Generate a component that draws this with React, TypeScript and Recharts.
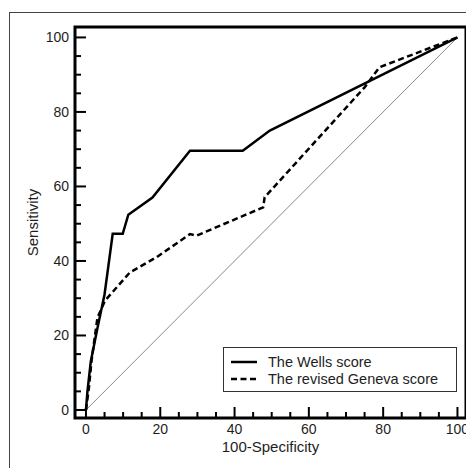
import React from "react";
import { LineChart, Line, XAxis, YAxis, ReferenceArea, Legend } from "recharts";

// ROC points (100-Specificity, Sensitivity)
const wellsX = [0, 0.4, 1.3, 3.1, 5, 7.2, 9.9, 11.4, 17.9, 28, 42.2, 49.5, 100];
const wellsY = [0, 5, 13, 22, 31, 47.3, 47.3, 52.4, 57, 69.6, 69.6, 75, 100];

const genevaX = [0, 0.8, 1.5, 3.1, 5.1, 11.8, 19, 28, 29.8, 47.7, 48.1, 75, 79, 100];
const genevaY = [0, 6, 13.2, 24.8, 29.3, 36.9, 41, 47.2, 46.8, 54.4, 57.1, 86.6, 92, 100];

const chanceX = [0, 100];
const chanceY = [0, 100];

const tickValues = [0, 5, 10, 15, 20, 25, 30, 35, 40, 45, 50, 55, 60, 65, 70, 75, 80, 85, 90, 95, 100];
const legendLabels = ["The Wells score", "The revised Geneva score"];

const xDomain: [number, number] = [-2.95, 102.3];
const yDomain: [number, number] = [-2.15, 102.8];

const toPoints = (xs: number[], ys: number[]) => xs.map((x, i) => ({ x, y: ys[i] }));
const wells = toPoints(wellsX, wellsY);
const geneva = toPoints(genevaX, genevaY);
const chance = toPoints(chanceX, chanceY);

const FONT = "'Liberation Sans', Arial, sans-serif";
const INK = "#1e1e1e";

const XTick = ({ x, y, payload }: any) => {
  const major = payload.value % 20 === 0;
  return (
    <g>
      <line x1={x} x2={x} y1={y} y2={y - (major ? 11 : 6)} stroke="#000" strokeWidth={2} />
      {major && (
        <text x={x} y={y + 11} textAnchor="middle" dominantBaseline="central" fontSize={14} fill={INK} fontFamily={FONT}>
          {payload.value}
        </text>
      )}
    </g>
  );
};

const YTick = ({ x, y, payload }: any) => {
  const major = payload.value % 20 === 0;
  return (
    <g>
      <line x1={x} x2={x + (major ? 11 : 6)} y1={y} y2={y} stroke="#000" strokeWidth={2} />
      {major && (
        <text x={x - 6} y={y} textAnchor="end" dominantBaseline="central" fontSize={14} fill={INK} fontFamily={FONT}>
          {payload.value}
        </text>
      )}
    </g>
  );
};

const YTitle = ({ viewBox }: any) => {
  const cy = viewBox.y + viewBox.height / 2;
  return (
    <text x={32} y={cy} transform={`rotate(-90, 32, ${cy})`} textAnchor="middle" dominantBaseline="central" fontSize={15} fill={INK} fontFamily={FONT}>
      Sensitivity
    </text>
  );
};

const XTitle = ({ viewBox }: any) => {
  const cx = viewBox.x + viewBox.width / 2;
  return (
    <text x={cx} y={viewBox.y + 28} textAnchor="middle" dominantBaseline="central" fontSize={15} fill={INK} fontFamily={FONT}>
      100-Specificity
    </text>
  );
};

const LegendBox = () => (
  <div style={{ boxSizing: "border-box", width: 234, height: 45, border: "1px solid #333", background: "#fff", padding: "5px 0 0 7px" }}>
    {legendLabels.map((label, i) => (
      <div key={label} style={{ display: "flex", alignItems: "center", height: 17.5, fontSize: 14.5, color: INK, fontFamily: FONT }}>
        <svg width={28} height={6} style={{ marginRight: 9 }}>
          <line x1={0} x2={26} y1={3} y2={3} stroke="#000" strokeWidth={2.5} strokeDasharray={i === 1 ? "6 3.5" : undefined} />
        </svg>
        {label}
      </div>
    ))}
  </div>
);

export default function App() {
  return (
    <div style={{ position: "relative", width: 474, height: 476, margin: -8, overflow: "hidden", background: "#fff", fontFamily: FONT }}>
      <div style={{ position: "absolute", left: 9, top: 12, width: 520, height: 520, border: "1px solid #444" }} />
      <LineChart width={474} height={476} margin={{ top: 27, right: 8, bottom: 18, left: 35 }}>
        <XAxis
          type="number"
          dataKey="x"
          domain={xDomain}
          allowDataOverflow
          ticks={tickValues}
          interval={0}
          tick={<XTick />}
          tickSize={0}
          tickMargin={0}
          tickLine={false}
          axisLine={false}
          height={40}
          label={XTitle}
        />
        <YAxis
          type="number"
          dataKey="y"
          domain={yDomain}
          allowDataOverflow
          ticks={tickValues}
          interval={0}
          tick={<YTick />}
          tickSize={0}
          tickMargin={0}
          tickLine={false}
          axisLine={false}
          width={40}
          label={YTitle}
        />
        <Line data={chance} dataKey="y" type="linear" stroke="#8a8a8a" strokeWidth={1} dot={false} isAnimationActive={false} legendType="none" />
        <Line data={geneva} dataKey="y" type="linear" stroke="#000" strokeWidth={2.5} strokeDasharray="6 3.5" dot={false} isAnimationActive={false} />
        <Line data={wells} dataKey="y" type="linear" stroke="#000" strokeWidth={2.5} dot={false} isAnimationActive={false} />
        <ReferenceArea x1={xDomain[0]} x2={xDomain[1]} y1={yDomain[0]} y2={yDomain[1]} fill="none" stroke="#000" strokeWidth={3} />
        <Legend
          layout="vertical"
          align="center"
          verticalAlign="middle"
          content={<LegendBox />}
          wrapperStyle={{ left: 223, top: 347, width: 234, height: 45 }}
        />
      </LineChart>
    </div>
  );
}
